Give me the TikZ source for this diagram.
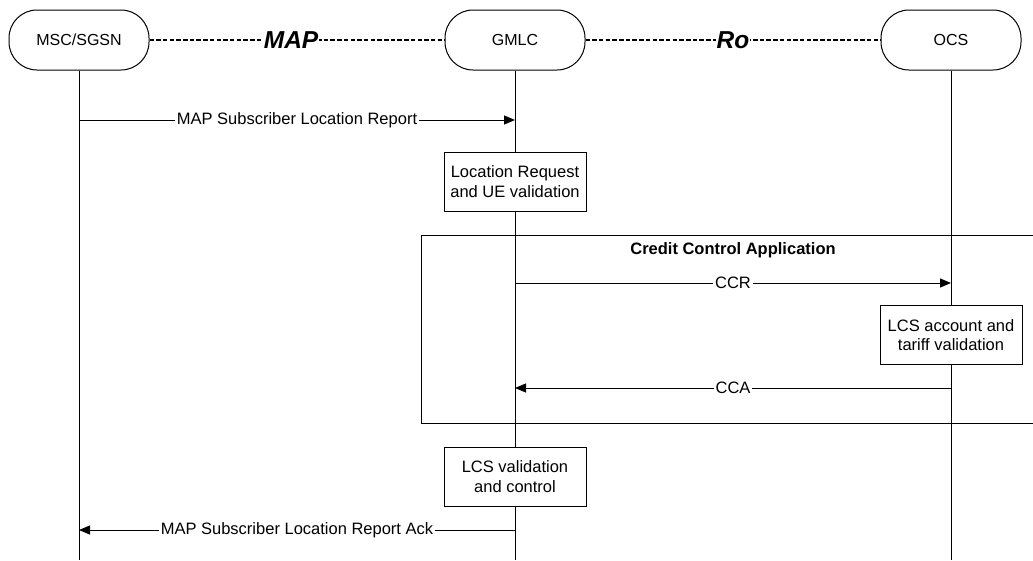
\documentclass[tikz,border=0pt]{standalone}
\usepackage{fontspec}
\setmainfont{Liberation Sans}
\usepackage{tikz}
\usetikzlibrary{arrows.meta}

\begin{document}
\begin{tikzpicture}[x=1pt,y=-1pt,line width=1pt]
	\useasboundingbox (0,0) rectangle (1033,560);
	\clip (0,0) rectangle (1033,560);

	% entities
	\begin{scope}[every node/.style={draw,rounded corners=28pt,minimum width=140pt,
				  minimum height=60pt,font=\fontsize{16}{19.5}\selectfont}]
		\node (msc) at (79,40) {MSC/SGSN};
		\node (gmlc) at (515,40) {GMLC};
		\node (ocs) at (951,40) {OCS};
	\end{scope}

	% interfaces
	\begin{scope}[every node/.style={fill=white,inner sep=1pt,font=\fontsize{24.5}{28}\selectfont\bfseries\itshape},
				  every edge/.style={draw=black,line width=2.6pt,dash pattern=on 4.5pt off 2.2pt}]
		\path [-] (msc) edge node[pos=0.48] (map) {MAP} (gmlc);
		\path [-] (gmlc) edge node (ro) {Ro} (ocs);
	\end{scope}

	% lifelines
	\coordinate (msc-end) at (79,560);
	\coordinate (gmlc-end) at (515,560);
	\coordinate (ocs-end) at (951,560);
	\draw (msc) -- (msc-end);
	\draw (gmlc) -- (gmlc-end);
	\draw (ocs) -- (ocs-end);

	% credit control frame
	\draw (1045,235) -- (421,235) -- (421,423) -- (1045,423);
	\node[font=\fontsize{16.5}{20}\selectfont\bfseries] (cca-frame) at (733,250) {Credit Control Application};

	% message points
	\coordinate (msc-1) at (79,120);
	\coordinate (gmlc-1) at (515,120);
	\coordinate (gmlc-2) at (515,283);
	\coordinate (ocs-2) at (951,283);
	\coordinate (ocs-3) at (951,388);
	\coordinate (gmlc-3) at (515,388);
	\coordinate (gmlc-4) at (515,530);
	\coordinate (msc-4) at (79,530);

	% messages
	\begin{scope}[>={Triangle[length=11pt,width=9pt]},
				  every node/.style={fill=white,inner sep=2pt,font=\fontsize{16.5}{19.5}\selectfont},
				  every edge/.style={draw=black}]
		\path [->] (msc-1) edge node (slr) {MAP Subscriber Location Report} (gmlc-1);
		\path [->] (gmlc-2) edge node (ccr) {CCR} (ocs-2);
		\path [->] (ocs-3) edge node (cca) {CCA} (gmlc-3);
		\path [->] (gmlc-4) edge node (slra) {MAP Subscriber Location Report Ack} (msc-4);
	\end{scope}

	% actions
	\begin{scope}[every node/.style={draw,fill=white,minimum width=142pt,minimum height=59pt,
				  align=center,font=\fontsize{16.5}{19.5}\selectfont}]
		\node (ue-val) at (515,181.5) {Location Request\\and UE validation};
		\node (tariff-val) at (951,335) {LCS account and\\tariff validation};
		\node (lcs-val) at (515,476.5) {LCS validation\\and control};
	\end{scope}
\end{tikzpicture}
\end{document}
